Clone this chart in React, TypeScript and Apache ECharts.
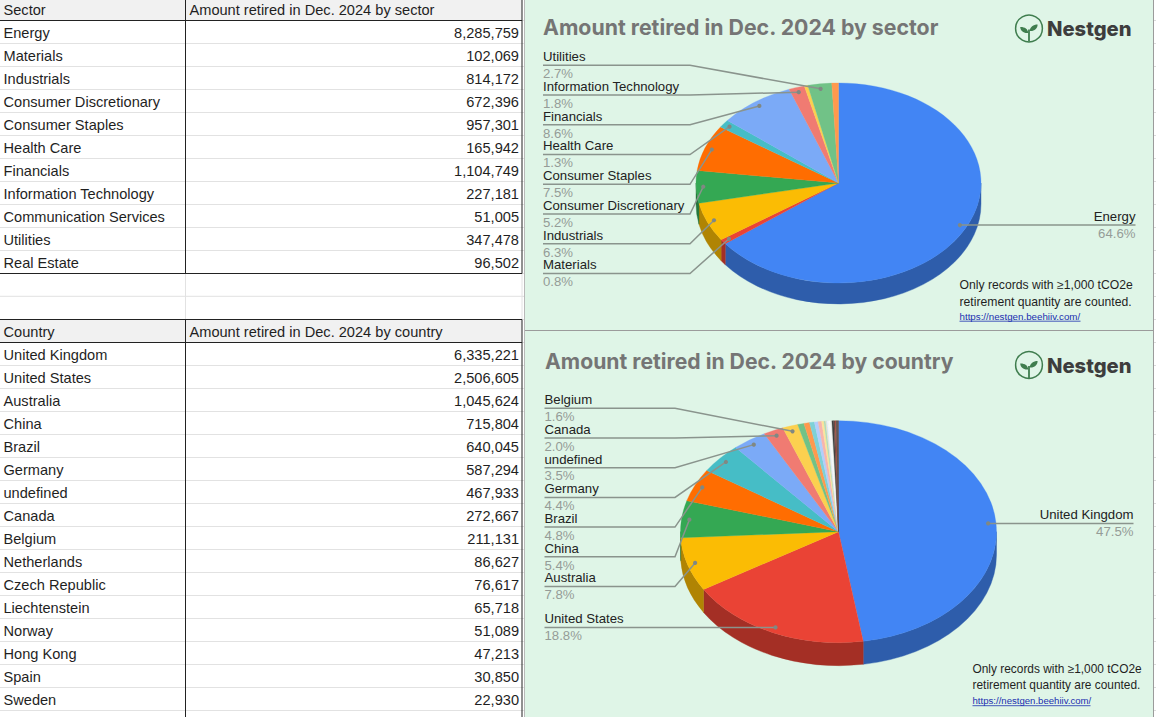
import React, { useEffect, useRef } from "react";
import * as echarts from "echarts";

const sectorNames = ["Energy","Materials","Industrials","Consumer Discretionary","Consumer Staples","Health Care","Financials","Information Technology","Communication Services","Utilities","Real Estate"];
const sectorValues = [8285759,102069,814172,672396,957301,165942,1104749,227181,51005,347478,96502];
const countryNames = ["United Kingdom","United States","Australia","China","Brazil","Germany","undefined","Canada","Belgium","Netherlands","Czech Republic","Liechtenstein","Norway","Hong Kong","Spain","Sweden"];
const countryValues = [6335221,2506605,1045624,715804,640045,587294,467933,272667,211131,86627,76617,65718,51089,47213,30850,22930];
// rows below the visible part of the sheet: thin slices
const hiddenCountryValues = [10000,8000,7000,22000,20000,18000,24000,20000,16000,14000,15000];
const paletteColors = ["#4285F4","#EA4335","#FBBC04","#34A853","#FF6D01","#46BDC6","#7BAAF7","#F07B72","#FCD04F","#71C287","#FF994D","#7ED1D7","#B3CEFB","#F7B4AE","#FDE49B","#AEDCBA"];
const hiddenCountryColors = ["#FFD9BD","#C8EBEE","#DCE8FD","#F4F6F4","#FBFBFB","#EEF2EE","#3F3F3F","#6B4A45","#A5483F","#4A4A4A","#5A3F3C"];
const sectorLeftLabels = ["Utilities","Information Technology","Financials","Health Care","Consumer Staples","Consumer Discretionary","Industrials","Materials"];
const countryLeftLabels = ["Belgium","Canada","undefined","Germany","Brazil","China","Australia"];
const sectorHeader = ["Sector","Amount retired in Dec. 2024 by sector"];
const countryHeader = ["Country","Amount retired in Dec. 2024 by country"];
const noteLines = ["Only records with ≥1,000 tCO2e","retirement quantity are counted."];
const noteLink = "https://nestgen.beehiiv.com/";

const SANS = '"Liberation Sans", Arial, sans-serif';
const PANEL = "#DFF5E7";

echarts.graphic.registerShape(
  "sproutLeaves",
  echarts.graphic.extendPath(
    "M-0.8 3.5C-1 -0.5 -4.5 -2.6 -8.8 -2.4C-8.6 1.6 -5 4.2 -0.8 3.5ZM0.8 1.5C0.9 -2.6 4.4 -5 8.6 -5C8.6 -0.8 5 2 0.8 1.5Z",
    {}
  )
);

function shade(hex: string, k: number) {
  const n = parseInt(hex.slice(1), 16);
  const c = [(n >> 16) & 255, (n >> 8) & 255, n & 255].map((v) => Math.round(v * k));
  return `rgb(${c[0]},${c[1]},${c[2]})`;
}

type Pie = {
  names: string[]; values: number[]; colors: string[];
  cx: number; cy: number; rx: number; ry: number; depth: number;
  left: string[]; ruleTop: number; ruleStep: number; textX: number; elbowX: number;
  lowerLeft?: string; rightLabel: string; rightX: number;
};

function pieSeries(p: Pie) {
  const total = p.values.reduce((a, b) => a + b, 0);
  let acc = 0;
  const spans = p.values.map((v) => {
    const s = acc;
    acc += v;
    return [(s / total) * 2 * Math.PI, (acc / total) * 2 * Math.PI];
  });
  const pt = (a: number, k = 1, dy = 0): [number, number] => [
    p.cx + k * p.rx * Math.sin(a),
    p.cy - k * p.ry * Math.cos(a) + dy,
  ];
  const f = (q: [number, number]) => `${q[0].toFixed(3)} ${q[1].toFixed(3)}`;
  const label = (i: number, children: any[]) => {
    const name = p.names[i];
    if (!name) return;
    const leftIndex = p.left.indexOf(name);
    const isRight = name === p.rightLabel;
    const isLower = name === p.lowerLeft;
    if (leftIndex < 0 && !isRight && !isLower) return;
    const mid = (spans[i][0] + spans[i][1]) / 2;
    const dot = pt(mid, 0.95);
    const pct = ((p.values[i] / total) * 100).toFixed(1) + "%";
    const y = leftIndex >= 0 ? p.ruleTop + leftIndex * p.ruleStep : dot[1];
    const endX = isRight ? p.rightX : p.textX;
    const ruleShape = leftIndex >= 0
      ? [[endX, y], [p.elbowX, y], dot]
      : [[endX, y], dot];
    children.push({
      type: "polyline", z2: 20, shape: { points: ruleShape },
      style: { stroke: "#8a948d", lineWidth: 1.5, fill: "none" },
    });
    children.push({ type: "circle", z2: 21, shape: { cx: dot[0], cy: dot[1], r: 2.1 }, style: { fill: "#808883" } });
    const align = isRight ? "right" : "left";
    children.push({
      type: "text", z2: 22,
      style: { text: name, x: endX, y: y - 8.6, fill: "#222222", font: `13.2px ${SANS}`, align, textAlign: align, verticalAlign: "middle", textVerticalAlign: "middle" },
    });
    children.push({
      type: "text", z2: 22,
      style: { text: pct, x: endX, y: y + 8.2, fill: "#959c97", font: `13.2px ${SANS}`, align, textAlign: align, verticalAlign: "middle", textVerticalAlign: "middle" },
    });
  };
  return {
    type: "custom",
    coordinateSystem: "none",
    silent: true,
    animation: false,
    z: 3,
    data: p.values.map((v, i) => ({ name: p.names[i] ?? "", value: [v] })),
    renderItem: (params: any) => {
      const i = params.dataIndex;
      const [a0, a1] = spans[i];
      const color = p.colors[i];
      const children: any[] = [];
      const lo = Math.max(a0, Math.PI / 2);
      const hi = Math.min(a1, (3 * Math.PI) / 2);
      if (hi > lo) {
        const w = shade(color, 0.7);
        children.push({
          type: "path", z2: 1,
          shape: {
            pathData: `M${f(pt(lo))}A${p.rx} ${p.ry} 0 ${hi - lo > Math.PI ? 1 : 0} 1 ${f(pt(hi))}L${f(pt(hi, 1, p.depth))}A${p.rx} ${p.ry} 0 ${hi - lo > Math.PI ? 1 : 0} 0 ${f(pt(lo, 1, p.depth))}Z`,
          },
          style: { fill: w, stroke: w, lineWidth: 0.4 },
        });
      }
      children.push({
        type: "path", z2: 2,
        shape: {
          pathData: `M${p.cx} ${p.cy}L${f(pt(a0))}A${p.rx} ${p.ry} 0 ${a1 - a0 > Math.PI ? 1 : 0} 1 ${f(pt(a1))}Z`,
        },
        style: { fill: color, stroke: color, lineWidth: 0.3 },
      });
      label(i, children);
      return { type: "group", children };
    },
  };
}

function tableSeries(header: string[], names: string[], values: number[], top: number, headText: number, rowText: number) {
  const ROW = 23;
  const COL = 185.5;
  const RIGHT = 522;
  const headBottom = top + ROW;
  const cell = (text: string, x: number, y: number, align: string) => ({
    type: "text", z2: 5,
    style: { text, x, y, fill: "#1f1f1f", font: `14.6px ${SANS}`, align, textAlign: align, verticalAlign: "middle", textVerticalAlign: "middle" },
  });
  const rows = [-1, ...names.map((_, i) => i)];
  return {
    type: "custom",
    coordinateSystem: "none",
    silent: true,
    animation: false,
    z: 2,
    data: rows.map((r) => ({ name: r < 0 ? header[0] : names[r], value: [r] })),
    renderItem: (params: any) => {
      const r = rows[params.dataIndex];
      if (r < 0) {
        return {
          type: "group",
          children: [
            { type: "rect", shape: { x: 0, y: top, width: RIGHT, height: ROW }, style: { fill: "#F1F1F1" } },
            cell(header[0], 3.5, headText, "left"),
            cell(header[1], COL + 4, headText, "left"),
          ],
        };
      }
      const y0 = headBottom + r * ROW;
      return {
        type: "group",
        children: [
          { type: "line", shape: { x1: 0, y1: y0 + ROW, x2: RIGHT, y2: y0 + ROW }, style: { stroke: "#e2e2e2", lineWidth: 1 } },
          cell(names[r], 3.5, y0 + rowText, "left"),
          cell(values[r].toLocaleString("en-US"), 519, y0 + rowText, "right"),
        ],
      };
    },
  };
}

function logo(x: number, y: number) {
  return [
    { type: "circle", shape: { cx: x, cy: y, r: 13.4 }, style: { fill: "none", stroke: "#3F7D4E", lineWidth: 1.5 } },
    { type: "line", shape: { x1: x, y1: y + 1, x2: x, y2: y + 13 }, style: { stroke: "#3F7D4E", lineWidth: 1.8 } },
    { type: "sproutLeaves", x, y: y + 1, style: { fill: "#3F7D4E" } },
    { type: "text", x: x + 18, y, style: { text: "Nestgen", fill: "#3D3D3D", font: `800 20.2px Inter, ${SANS}`, align: "left", textAlign: "left", verticalAlign: "middle", textVerticalAlign: "middle" } },
  ];
}

function note(x: number, y1: number, y2: number, y3: number, size: number, linkSize: number, linkWidth: number) {
  const t = (text: string, y: number, fill: string, s: number) => ({
    type: "text", x, y,
    style: { text, fill, font: `${s}px ${SANS}`, align: "left", textAlign: "left", verticalAlign: "middle", textVerticalAlign: "middle" },
  });
  return [
    t(noteLines[0], y1, "#1f1f1f", size),
    t(noteLines[1], y2, "#1f1f1f", size),
    t(noteLink, y3, "#1A2FB0", linkSize),
    { type: "line", shape: { x1: x, y1: y3 + 5, x2: x + linkWidth, y2: y3 + 5 }, style: { stroke: "#1A2FB0", lineWidth: 0.8 } },
  ];
}

function gridElements() {
  const out: any[] = [];
  // sheet lines in the blank rows and the margins around the chart panels
  [296.3].forEach((y) => out.push({ type: "line", shape: { x1: 0, y1: y, x2: 524, y2: y }, style: { stroke: "#e2e2e2" } }));
  for (let k = 0; k < 31; k++) {
    const y = 20.5 + k * 23;
    out.push({ type: "line", shape: { x1: 1154, y1: y, x2: 1156, y2: y }, style: { stroke: "#dcdcdc" } });
    out.push({ type: "line", shape: { x1: 522, y1: y, x2: 524, y2: y }, style: { stroke: "#e2e2e2" } });
  }
  const v = (x: number, y1: number, y2: number, c: string) => ({ type: "line", z: 9, shape: { x1: x, y1, x2: x, y2 }, style: { stroke: c, lineWidth: 1 } });
  const h = (y: number) => ({ type: "line", z: 9, shape: { x1: 0, y1: y, x2: 522, y2: y }, style: { stroke: "#222", lineWidth: 1 } });
  out.push(
    v(185.5, 273, 320, "#e2e2e2"), v(522, 273, 320, "#e2e2e2"),
    v(185.5, 0, 273.5, "#222"), v(522, 0, 273.5, "#222"),
    v(185.5, 319.5, 717, "#222"), v(522, 319.5, 717, "#222"),
    h(20.5), h(273.5), h(319.5), h(342.5),
  );
  return out;
}

const total2Values = [...countryValues, ...hiddenCountryValues];

export default function App() {
  const ref = useRef<HTMLDivElement>(null);
  useEffect(() => {
    document.body.style.margin = "0";
    const chart = echarts.init(ref.current!, null, { renderer: "svg" });
    chart.setOption({
      animation: false,
      backgroundColor: "#ffffff",
      graphic: {
        elements: [
          { type: "rect", shape: { x: 525, y: 0, width: 629, height: 717 }, style: { fill: PANEL } },
          { type: "line", shape: { x1: 524.5, y1: 0, x2: 524.5, y2: 717 }, style: { stroke: "#b9b9b9", lineWidth: 1 } },
          { type: "line", shape: { x1: 1153.5, y1: 0, x2: 1153.5, y2: 717 }, style: { stroke: "#9b9b9b", lineWidth: 1 } },
          { type: "line", shape: { x1: 525, y1: 330.5, x2: 1154, y2: 330.5 }, style: { stroke: "#9b9b9b", lineWidth: 1 } },
          ...gridElements(),
          { type: "text", x: 543, y: 27, style: { text: sectorHeader[1], fill: "#757575", font: `700 21.3px Inter, ${SANS}`, align: "left", textAlign: "left", verticalAlign: "middle", textVerticalAlign: "middle" } },
          { type: "text", x: 545, y: 361, style: { text: countryHeader[1], fill: "#757575", font: `700 21.2px Inter, ${SANS}`, align: "left", textAlign: "left", verticalAlign: "middle", textVerticalAlign: "middle" } },
          ...logo(1029, 28.5),
          ...logo(1029, 365),
          ...note(959.5, 285, 301.5, 316.2, 12.2, 9.75, 121),
          ...note(972.5, 668.7, 685.3, 700.7, 11.9, 9.6, 118),
        ],
      },
      series: [
        tableSeries(sectorHeader, sectorNames, sectorValues, -2.5, 9.8, 12.3),
        tableSeries(countryHeader, countryNames, countryValues, 319.5, 332, 12.1),
        pieSeries({
          names: sectorNames, values: sectorValues, colors: paletteColors,
          cx: 838.5, cy: 183, rx: 142.5, ry: 100, depth: 21,
          left: sectorLeftLabels, ruleTop: 65.3, ruleStep: 29.75, textX: 543, elbowX: 690,
          rightLabel: "Energy", rightX: 1135.5,
        }),
        pieSeries({
          names: countryNames, values: total2Values, colors: [...paletteColors, ...hiddenCountryColors],
          cx: 838.5, cy: 531.7, rx: 158, ry: 111, depth: 23,
          left: countryLeftLabels, ruleTop: 408.3, ruleStep: 29.7, textX: 544.5, elbowX: 675,
          lowerLeft: "United States", rightLabel: "United Kingdom", rightX: 1133.5,
        }),
      ],
    });
    return () => chart.dispose();
  }, []);
  return <div ref={ref} style={{ position: "absolute", left: 0, top: 0, width: 1156, height: 717 }} />;
}
